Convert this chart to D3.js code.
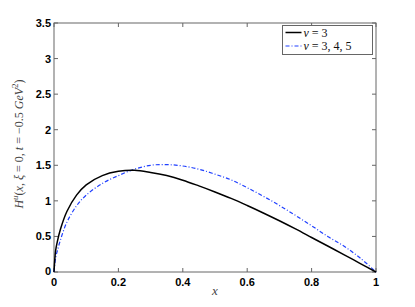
<!DOCTYPE html>
<html>
<head>
<meta charset="utf-8">
<script src="https://cdn.jsdelivr.net/npm/d3@7"></script>
<style>
  body { margin: 0; background: #fff; }
  svg { display: block; }
  .tick-label { font-family: "Liberation Sans", Arial, sans-serif; font-weight: bold; font-size: 11px; fill: #000; }
  .math { font-family: "Liberation Serif", "DejaVu Serif", serif; }
</style>
</head>
<body>
<div id="chart"></div>
<script>
// Chart size
var svgWidth = 415;
var svgHeight = 307;

var Margin = { top: 23, right: 39, bottom: 35, left: 54 };
var width = svgWidth - Margin.left - Margin.right;
var height = svgHeight - Margin.top - Margin.bottom;

// Data
var xValues  = [0, 0.005, 0.01, 0.02, 0.04, 0.07, 0.1, 0.15, 0.2, 0.25, 0.3, 0.35, 0.4, 0.45, 0.5, 0.55, 0.6, 0.65, 0.7, 0.75, 0.8, 0.85, 0.9, 0.95, 1];
var nu3      = [0, 0.3, 0.42, 0.6, 0.85, 1.08, 1.225, 1.355, 1.415, 1.43, 1.40, 1.355, 1.29, 1.21, 1.125, 1.035, 0.935, 0.83, 0.72, 0.605, 0.485, 0.365, 0.245, 0.122, 0];
var nu345    = [0, 0.2, 0.29, 0.45, 0.7, 0.93, 1.08, 1.245, 1.355, 1.445, 1.5, 1.51, 1.49, 1.445, 1.375, 1.295, 1.185, 1.065, 0.935, 0.795, 0.65, 0.5, 0.365, 0.2, 0];
var xTicks = [0, 0.2, 0.4, 0.6, 0.8, 1];
var yTicks = [0, 0.5, 1, 1.5, 2, 2.5, 3, 3.5];
var seriesNames = ["\u03BD = 3", "\u03BD = 3, 4, 5"];

var svg = d3.select("#chart")
  .append("svg")
  .attr("width", svgWidth)
  .attr("height", svgHeight);

var chartGroup = svg.append("g")
  .attr("transform", `translate(${Margin.left}, ${Margin.top})`);

var xScale = d3.scaleLinear().domain([0, 1]).range([0, width]);
var yScale = d3.scaleLinear().domain([0, 3.5]).range([height, 0]);

// box
chartGroup.append("rect")
  .attr("width", width).attr("height", height)
  .attr("fill", "none").attr("stroke", "#666").attr("stroke-width", 1);

// inward ticks on all four sides
var tl = 4;
xTicks.forEach(function(t) {
  var x = xScale(t);
  chartGroup.append("line").attr("x1", x).attr("x2", x).attr("y1", height).attr("y2", height - tl).attr("stroke", "#666");
  chartGroup.append("line").attr("x1", x).attr("x2", x).attr("y1", 0).attr("y2", tl).attr("stroke", "#666");
  chartGroup.append("text").attr("class", "tick-label")
    .attr("x", x).attr("y", height + 14)
    .attr("text-anchor", "middle").text(d3.format("~g")(t));
});
yTicks.forEach(function(t) {
  var y = yScale(t);
  chartGroup.append("line").attr("x1", 0).attr("x2", tl).attr("y1", y).attr("y2", y).attr("stroke", "#666");
  chartGroup.append("line").attr("x1", width).attr("x2", width - tl).attr("y1", y).attr("y2", y).attr("stroke", "#666");
  chartGroup.append("text").attr("class", "tick-label")
    .attr("x", -3).attr("y", y + 4 - (t === 0 ? 1 : 0))
    .attr("text-anchor", "end").text(d3.format("~g")(t));
});

// curves
var line = d3.line()
  .x(function(d) { return xScale(d[0]); })
  .y(function(d) { return yScale(d[1]); })
  .curve(d3.curveCatmullRom.alpha(0.5));

chartGroup.append("path")
  .datum(xValues.map(function(x, i) { return [x, nu345[i]]; }))
  .attr("d", line)
  .attr("fill", "none")
  .attr("stroke", "#1f3fff")
  .attr("stroke-width", 1.2)
  .attr("stroke-dasharray", "4,2,1,2");

chartGroup.append("path")
  .datum(xValues.map(function(x, i) { return [x, nu3[i]]; }))
  .attr("d", line)
  .attr("fill", "none")
  .attr("stroke", "#000")
  .attr("stroke-width", 1.5);

// legend
var legend = svg.append("g").attr("transform", "translate(282.5, 25.5)");
legend.append("rect").attr("width", 90).attr("height", 29)
  .attr("fill", "#fff").attr("stroke", "#666");
legend.append("line").attr("x1", 3).attr("x2", 19).attr("y1", 7).attr("y2", 7)
  .attr("stroke", "#000").attr("stroke-width", 1.5);
legend.append("line").attr("x1", 3).attr("x2", 19).attr("y1", 20.5).attr("y2", 20.5)
  .attr("stroke", "#1f3fff").attr("stroke-width", 1.2).attr("stroke-dasharray", "4,2,1,2");
seriesNames.forEach(function(name, i) {
  var t = legend.append("text").attr("class", "math")
    .attr("x", 21).attr("y", 11 + i * 13.5).attr("font-size", "12px").attr("fill", "#111");
  t.append("tspan").attr("font-style", "italic").text(name.slice(0, 1));
  t.append("tspan").text(name.slice(1));
});

// axis labels
svg.append("text").attr("class", "math")
  .attr("x", Margin.left + width / 2).attr("y", 295)
  .attr("text-anchor", "middle").attr("font-style", "italic")
  .attr("font-size", "13px").attr("fill", "#444").text("x");

var yl = svg.append("text").attr("class", "math")
  .attr("transform", "translate(23, 144) rotate(-90)")
  .attr("text-anchor", "middle").attr("font-size", "12px").attr("fill", "#444");
yl.append("tspan").attr("font-style", "italic").text("H");
yl.append("tspan").attr("font-style", "italic").attr("font-size", "9px").attr("dy", -5).text("u");
yl.append("tspan").attr("dy", 5).text("(");
yl.append("tspan").attr("font-style", "italic").text("x");
yl.append("tspan").text(", ");
yl.append("tspan").attr("font-style", "italic").text("\u03BE");
yl.append("tspan").text(" = 0, ");
yl.append("tspan").attr("font-style", "italic").text("t");
yl.append("tspan").text(" = \u22120.5 ");
yl.append("tspan").attr("font-style", "italic").text("GeV");
yl.append("tspan").attr("font-size", "9px").attr("dy", -5).text("2");
yl.append("tspan").attr("dy", 5).text(")");
</script>
</body>
</html>
